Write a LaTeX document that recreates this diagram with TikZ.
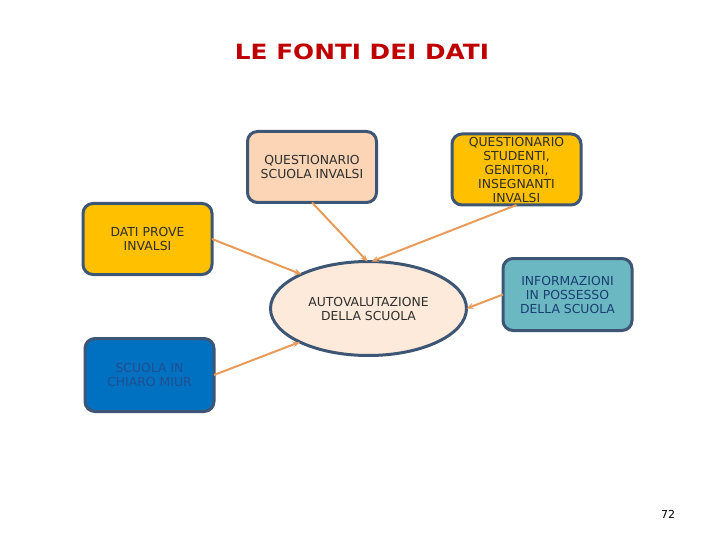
\documentclass[tikz,border=0pt]{standalone}
\usepackage{fontspec}
\setmainfont{DejaVu Sans}
\usetikzlibrary{shapes.geometric,arrows.meta}
\definecolor{bordc}{HTML}{3E5675}
\definecolor{arrc}{HTML}{E99B5A}
\definecolor{peach}{HTML}{FBD5B5}
\definecolor{gold}{HTML}{FFC000}
\definecolor{ellc}{HTML}{FDEADA}
\definecolor{teal}{HTML}{6CB8C2}
\definecolor{blu}{HTML}{0070C0}
\definecolor{titlec}{HTML}{C00000}
\definecolor{txtc}{HTML}{2E2E2E}
\definecolor{bluetxt}{HTML}{1F4F90}
\begin{document}
\begin{tikzpicture}[x=1pt,y=-1pt,
  boxst/.style={draw=bordc,line width=3pt,rounded corners=10pt,inner sep=0pt,outer sep=0pt,
    minimum width=129pt,minimum height=71pt,align=center,text=txtc,
    font=\fontsize{12.4}{14}\selectfont},
  conn/.style={draw=arrc,line width=2pt,-{Stealth[length=7pt,width=6pt]}}]
\useasboundingbox (0,0) rectangle (720,540);
\fill[white] (0,0) rectangle (720,540);
\node (title) at (362,51.5) {\scalebox{1.18}[1]{\fontsize{21}{25}\selectfont\bfseries\color{titlec}LE FONTI DEI DATI}};
\node[boxst,fill=peach] (q1) at (312,167) {QUESTIONARIO\\SCUOLA INVALSI};
\node[boxst,fill=gold] (q2) at (516.5,169.5) {QUESTIONARIO\\STUDENTI,\\GENITORI,\\INSEGNANTI\\INVALSI};
\node[boxst,fill=gold,minimum height=71pt] (dati) at (147.5,239) {DATI PROVE\\INVALSI};
\node[boxst,fill=teal,minimum height=72pt,text=bluetxt!80!black] (info) at (567.5,294.5) {INFORMAZIONI\\IN POSSESSO\\DELLA SCUOLA};
\node[boxst,fill=blu,minimum height=73pt,text=bluetxt] (sic) at (149.5,375) {SCUOLA IN\\CHIARO MIUR};
\node[draw=bordc,line width=3pt,ellipse,fill=ellc,inner sep=0pt,outer sep=0pt,
  minimum width=196pt,minimum height=94pt,align=center,text=txtc,
  font=\fontsize{12.4}{14}\selectfont] (auto) at (368.5,308.5) {AUTOVALUTAZIONE\\DELLA SCUOLA};
\node[font=\fontsize{11}{13}\selectfont] (pg) at (668,514) {72};
\draw[conn] (q1.south) -- ([xshift=-1pt]auto.north);
\draw[conn] (q2.south) -- ([xshift=3pt]auto.north);
\draw[conn] (dati.east) -- (auto.153);
\draw[conn] (sic.east) -- (auto.206);
\draw[conn] (info.west) -- (auto.east);
\end{tikzpicture}
\end{document}
